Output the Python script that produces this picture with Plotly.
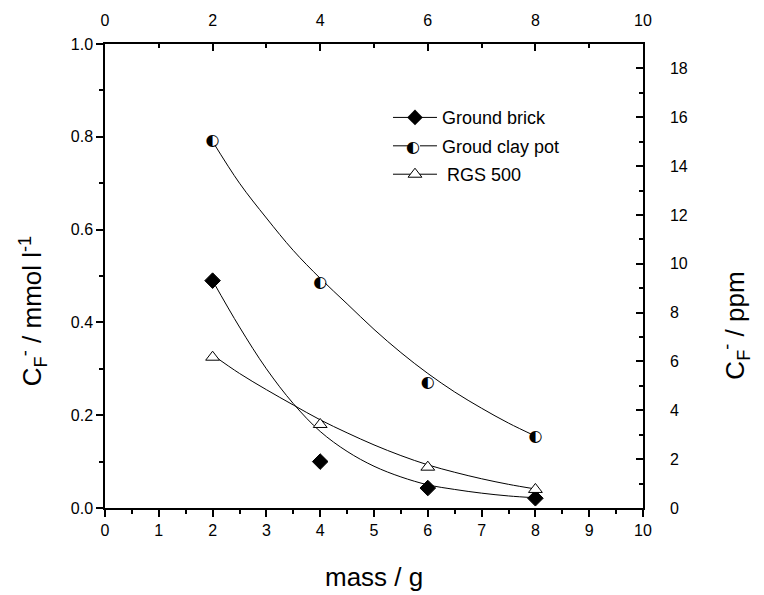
import plotly.graph_objects as go

# ---- data ----
mass = [2, 4, 6, 8]
brick = [0.49, 0.10, 0.043, 0.021]
clay = [0.79, 0.485, 0.27, 0.152]
rgs = [0.325, 0.18, 0.088, 0.040]

fit_x = [2, 2.5, 3, 3.5, 4, 4.5, 5, 5.5, 6, 6.5, 7, 7.5, 8]
fit_brick = [0.49, 0.39, 0.30, 0.225, 0.165, 0.122, 0.09, 0.067, 0.05, 0.04, 0.032, 0.026, 0.022]
fit_clay = [0.79, 0.70, 0.625, 0.555, 0.495, 0.44, 0.385, 0.335, 0.29, 0.25, 0.215, 0.183, 0.155]
fit_rgs = [0.33, 0.29, 0.255, 0.222, 0.19, 0.162, 0.136, 0.113, 0.093, 0.077, 0.063, 0.051, 0.041]

names = ["Ground brick", "Groud clay pot", "\u00a0RGS 500"]

x_bottom_ticks = list(range(0, 11))
x_top_ticks = [0, 2, 4, 6, 8, 10]
y_left_ticks = [0.0, 0.2, 0.4, 0.6, 0.8, 1.0]
y_right_ticks = list(range(0, 19, 2))

FONT = "Liberation Sans, Arial, sans-serif"
HALF = "\u25d0"
fig = go.Figure()

line_style = dict(color="black", width=1, shape="spline")
for fy in (fit_clay, fit_brick, fit_rgs):
    fig.add_trace(go.Scatter(x=fit_x, y=fy, mode="lines", line=line_style,
                             showlegend=False, hoverinfo="skip"))

fig.add_trace(go.Scatter(x=mass, y=brick, mode="markers", showlegend=False,
                         marker=dict(symbol="diamond", size=12, color="black",
                                     line=dict(color="black", width=1))))
fig.add_trace(go.Scatter(x=mass, y=rgs, mode="markers", showlegend=False,
                         marker=dict(symbol="triangle-up", size=12, color="white",
                                     line=dict(color="black", width=1))))
# half-filled circles: white disc + glyph
fig.add_trace(go.Scatter(x=mass, y=clay, mode="markers+text", text=[HALF] * len(mass),
                         textposition="middle center", showlegend=False,
                         marker=dict(symbol="circle", size=10, color="white"),
                         textfont=dict(family="DejaVu Sans", size=16, color="black")))

# legend entries
fig.add_trace(go.Scatter(x=[None], y=[None], mode="lines+markers", name=names[0],
                         legendgroup="a", line=dict(color="black", width=1),
                         marker=dict(symbol="diamond", size=12, color="black")))
fig.add_trace(go.Scatter(x=[None], y=[None], mode="lines+markers", name=names[1],
                         legendgroup="b", line=dict(color="black", width=1),
                         marker=dict(symbol="circle", size=10, color="white")))
fig.add_trace(go.Scatter(x=[None], y=[None], mode="lines+markers", name=names[2],
                         legendgroup="c", line=dict(color="black", width=1),
                         marker=dict(symbol="triangle-up", size=12, color="white",
                                     line=dict(color="black", width=1))))

# dummy trace for secondary axes
fig.add_trace(go.Scatter(x=[None], y=[None], xaxis="x2", yaxis="y2", showlegend=False))

axis_common = dict(showline=True, linecolor="black", linewidth=1.5, showgrid=False,
                   zeroline=False, tickcolor="black", tickfont=dict(size=16, color="black"))

fig.update_layout(
    width=764, height=595,
    margin=dict(l=105, r=121, t=42, b=87),
    paper_bgcolor="white", plot_bgcolor="white",
    font=dict(family=FONT, color="black"),
    xaxis=dict(range=[0, 10], tickvals=x_bottom_ticks, ticks="outside", ticklen=7,
               tickwidth=1.5, minor=dict(dtick=0.5, ticks="outside", ticklen=4,
                                         tickcolor="black", tickwidth=1.5),
               **axis_common),
    xaxis2=dict(range=[0, 10], tickvals=x_top_ticks, overlaying="x", side="top",
                ticks="inside", ticklen=7, tickwidth=1.5, ticklabelstandoff=10,
                minor=dict(dtick=1, ticks="inside", ticklen=4, tickcolor="black", tickwidth=1.5),
                **axis_common),
    yaxis=dict(range=[0, 1], tickvals=y_left_ticks, tickformat=".1f", ticks="outside",
               ticklen=7, tickwidth=1.5,
               minor=dict(dtick=0.1, ticks="outside", ticklen=4, tickcolor="black", tickwidth=1.5),
               **axis_common),
    yaxis2=dict(range=[0, 19], tickvals=y_right_ticks, overlaying="y", side="right",
                ticks="inside", ticklen=7, tickwidth=1.5, ticklabelstandoff=22,
                minor=dict(dtick=1, ticks="inside", ticklen=4, tickcolor="black", tickwidth=1.5),
                **axis_common),
    legend=dict(x=0.526, y=0.881, xanchor="left", yanchor="top", bgcolor="rgba(0,0,0,0)",
                font=dict(size=18, color="black", family=FONT), tracegroupgap=2,
                itemwidth=44),
    showlegend=True,
)

# half-circle glyph on the legend entry
fig.add_annotation(text=HALF, xref="paper", yref="paper", x=0.5725, y=0.779,
                   showarrow=False, font=dict(family="DejaVu Sans", size=16, color="black"),
                   xanchor="center", yanchor="middle")

fig.add_annotation(text="mass / g", xref="paper", yref="paper", x=0.5, y=-0.148,
                   showarrow=False, font=dict(size=26), xanchor="center", yanchor="middle")
fig.add_annotation(text="C<sub>F</sub><sup>-</sup> / mmol l<sup>-1</sup>", xref="paper",
                   yref="paper", x=-0.135, y=0.425, textangle=-90, showarrow=False,
                   font=dict(size=26), xanchor="center", yanchor="middle")
fig.add_annotation(text="C<sub>F</sub><sup>-</sup> / ppm", xref="paper", yref="paper",
                   x=1.171, y=0.393, textangle=-90, showarrow=False,
                   font=dict(size=26), xanchor="center", yanchor="middle")

fig.write_html("out.html")
